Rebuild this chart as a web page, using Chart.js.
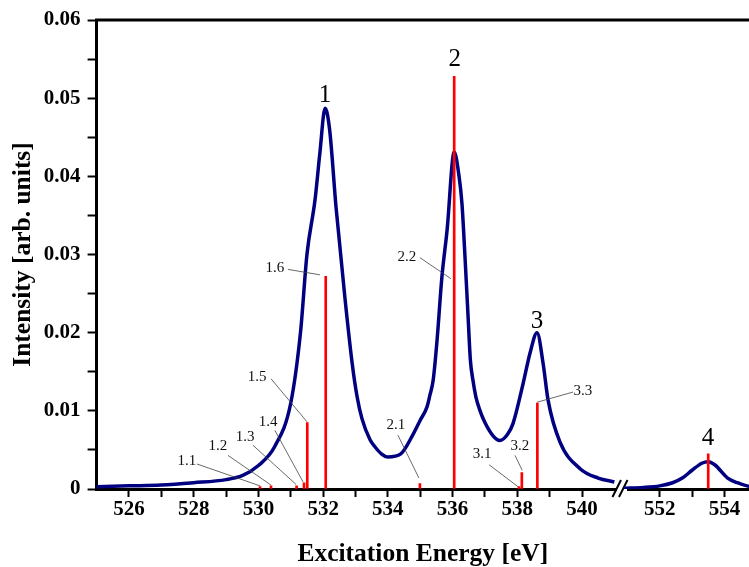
<!DOCTYPE html>
<html>
<head>
<meta charset="utf-8">
<script src="https://cdn.jsdelivr.net/npm/chart.js@4/dist/chart.umd.min.js"></script>
<style>
  html, body { margin: 0; padding: 0; background: #fff; }
  #wrap { width: 749px; height: 567px; }
</style>
</head>
<body>
<div id="wrap"><canvas id="spec"></canvas></div>
<script>
// Spectrum (left part of the broken axis, 525-541 eV)
var energyLow = [525.0, 526.0, 527.0, 528.0, 529.0, 529.5, 530.0, 530.5, 531.0, 531.3, 531.5, 531.75, 531.9, 532.06,
    532.2, 532.4, 532.68, 532.9, 533.05, 533.2, 533.45, 533.6, 533.8, 534.0, 534.4, 534.78, 535.0, 535.21, 535.3,
    535.4, 535.52, 535.67, 535.83, 536.05, 536.2, 536.29, 536.38, 536.48, 536.55, 536.63, 536.72, 536.85, 537.0,
    537.25, 537.46, 537.7, 537.87, 538.18, 538.4, 538.61, 538.8, 538.95, 539.32, 539.94, 540.5, 541.0];
var intensityLow = [0.0003, 0.0004, 0.0005, 0.0008, 0.0012, 0.0017, 0.0030, 0.0054, 0.0110, 0.0200, 0.0300, 0.0370, 0.0430, 0.0487,
    0.0460, 0.0360, 0.0242, 0.0160, 0.0118, 0.0090, 0.0063, 0.0054, 0.0045, 0.0041, 0.0045, 0.0070, 0.0088, 0.0105, 0.0120,
    0.0139, 0.0190, 0.0271, 0.0331, 0.0431, 0.0400, 0.0365, 0.0300, 0.0220, 0.0165, 0.0139, 0.0118, 0.0100, 0.0085,
    0.0068, 0.0062, 0.0070, 0.0084, 0.0135, 0.0175, 0.0200, 0.0160, 0.0114, 0.0060, 0.0026, 0.0014, 0.0009];

// Spectrum (right part, 551-555 eV)
var energyHigh = [550.9, 551.5, 552.0, 552.4, 552.7, 553.0, 553.3, 553.5, 553.7, 554.1, 554.4, 554.7, 555.0];
var intensityHigh = [0.0001, 0.0002, 0.0004, 0.0008, 0.0014, 0.0024, 0.0033, 0.0035, 0.0031, 0.0014, 0.0008, 0.0004, 0.0003];

// Transition sticks
var stickNames = ['1.1', '1.2', '1.3', '1.4', '1.5', '1.6', '2.1', '2.2', '3.1', '3.2', '3.3', '4'];
var stickEnergy = [530.05, 530.39, 531.18, 531.41, 531.51, 532.08, 534.99, 536.05, 538.05, 538.14, 538.62, 553.5];
var stickIntensity = [0.0003, 0.0004, 0.0004, 0.0008, 0.0085, 0.0272, 0.0007, 0.0528, 0.0003, 0.0021, 0.011, 0.0045];

// Ticks (real energies)
var xTickEnergy = [526, 527, 528, 529, 530, 531, 532, 533, 534, 535, 536, 537, 538, 539, 540, 552, 553, 554];
var xLabelEnergy = [526, 528, 530, 532, 534, 536, 538, 540, 552, 554];
var yTickLabels = ['0', '0.01', '0.02', '0.03', '0.04', '0.05', '0.06'];

// axis break: everything above 545 eV is moved left by this amount
var BREAK_SHIFT = 9.6;
var BREAK_AT = 541.2; // position of the // marks (axis units)

function toAxis(e) { return e > 545 ? e - BREAK_SHIFT : e; }
function fromAxis(v) { return v > BREAK_AT ? v + BREAK_SHIFT : v; }

// annotation placement (axis units): text centre, leader start, leader end
var smallNotes = [
    { t: '1.1', tx: 527.79, ty: 0.0036, a: [528.10, 0.0032], b: [530.05, 0.0004] },
    { t: '1.2', tx: 528.75, ty: 0.0055, a: [529.06, 0.0043], b: [530.39, 0.0005] },
    { t: '1.3', tx: 529.59, ty: 0.0067, a: [529.83, 0.0056], b: [531.16, 0.0006] },
    { t: '1.4', tx: 530.30, ty: 0.0086, a: [530.51, 0.0075], b: [531.38, 0.0009] },
    { t: '1.5', tx: 529.96, ty: 0.0143, a: [530.39, 0.0141], b: [531.50, 0.0086] },
    { t: '1.6', tx: 530.51, ty: 0.0283, a: [530.91, 0.0281], b: [531.90, 0.0274] },
    { t: '2.1', tx: 534.25, ty: 0.0082, a: [534.31, 0.0069], b: [534.96, 0.0014] },
    { t: '2.2', tx: 534.59, ty: 0.0297, a: [534.99, 0.0296], b: [535.95, 0.0269] },
    { t: '3.1', tx: 536.91, ty: 0.0045, a: [537.13, 0.0031], b: [538.02, 0.0003] },
    { t: '3.2', tx: 538.08, ty: 0.0055, a: [537.93, 0.0043], b: [538.15, 0.0024] },
    { t: '3.3', tx: 540.03, ty: 0.0125, a: [539.72, 0.0124], b: [538.61, 0.0111] }
];
var peakNotes = [
    { t: '1', x: 532.06, y: 0.0504 },
    { t: '2', x: 536.07, y: 0.0550 },
    { t: '3', x: 538.61, y: 0.0215 },
    { t: '4', x: 543.89, y: 0.0065 }
];

var SERIF = "'Liberation Serif', 'Times New Roman', serif";

// build the curve with a gap at the break
var curvePts = [];
energyLow.forEach(function (e, i) { curvePts.push({ x: toAxis(e), y: intensityLow[i] }); });
curvePts.push({ x: BREAK_AT, y: null });
energyHigh.forEach(function (e, i) { curvePts.push({ x: toAxis(e), y: intensityHigh[i] }); });

var stickPts = stickEnergy.map(function (e, i) { return { x: toAxis(e), y: stickIntensity[i] }; });

var annotPlugin = {
    id: 'annot',
    beforeDatasetsDraw: function (chart) {
        var ctx = chart.ctx, xs = chart.scales.x, area = chart.chartArea;
        ctx.save();
        // top frame line
        ctx.strokeStyle = '#000';
        ctx.lineWidth = 3;
        ctx.beginPath();
        ctx.moveTo(area.left - 1.5, area.top);
        ctx.lineTo(area.right, area.top);
        ctx.stroke();
        // break in the x axis
        var x0 = xs.getPixelForValue(541.08), x1 = xs.getPixelForValue(541.39), yb = area.bottom;
        ctx.fillStyle = '#fff';
        ctx.fillRect(x0, yb - 2, x1 - x0, 4);
        ctx.lineWidth = 2;
        [x0 - 0.5, x1 - 4].forEach(function (cx) {
            ctx.beginPath();
            ctx.moveTo(cx - 4, yb + 8);
            ctx.lineTo(cx + 4.5, yb - 9);
            ctx.stroke();
        });
        ctx.restore();
    },
    afterDatasetsDraw: function (chart) {
        var ctx = chart.ctx, xs = chart.scales.x, ys = chart.scales.y;
        ctx.save();
        ctx.textAlign = 'center';
        ctx.textBaseline = 'middle';
        ctx.font = '15px ' + SERIF;
        smallNotes.forEach(function (n) {
            ctx.strokeStyle = '#444';
            ctx.lineWidth = 0.8;
            ctx.beginPath();
            ctx.moveTo(xs.getPixelForValue(n.a[0]), ys.getPixelForValue(n.a[1]));
            ctx.lineTo(xs.getPixelForValue(n.b[0]), ys.getPixelForValue(n.b[1]));
            ctx.stroke();
            ctx.fillStyle = '#111';
            ctx.fillText(n.t, xs.getPixelForValue(n.tx), ys.getPixelForValue(n.ty));
        });
        ctx.font = '25px ' + SERIF;
        peakNotes.forEach(function (n) {
            ctx.fillStyle = '#000';
            ctx.fillText(n.t, xs.getPixelForValue(n.x), ys.getPixelForValue(n.y));
        });
        ctx.restore();
    }
};

new Chart(document.getElementById('spec'), {
    type: 'line',
    data: {
        datasets: [
            {
                type: 'bar',
                label: 'transitions',
                data: stickPts,
                backgroundColor: '#ff0000',
                barThickness: 2,
                grouped: false,
                order: 0
            },
            {
                label: 'spectrum',
                data: curvePts,
                borderColor: '#000080',
                borderWidth: 3.5,
                pointRadius: 0,
                cubicInterpolationMode: 'monotone',
                spanGaps: false,
                fill: false,
                order: 1
            }
        ]
    },
    options: {
        responsive: true,
        maintainAspectRatio: false,
        animation: false,
        layout: { padding: { top: 20, right: 0, left: 0, bottom: 0 } },
        plugins: {
            legend: { display: false },
            tooltip: { enabled: false }
        },
        scales: {
            x: {
                type: 'linear',
                min: 525,
                max: 545.16,
                offset: false,
                afterFit: function (s) { s.height = 78; },
                afterBuildTicks: function (s) {
                    s.ticks = xTickEnergy.map(function (e) { return { value: toAxis(e) }; });
                },
                grid: { display: true, drawOnChartArea: false, drawTicks: true, tickLength: 8, tickWidth: 2, tickColor: '#000', offset: false },
                border: { display: true, color: '#000', width: 3 },
                ticks: {
                    autoSkip: false,
                    maxRotation: 0,
                    padding: 0,
                    color: '#000',
                    font: { family: SERIF, size: 21, weight: 'bold' },
                    callback: function (v) {
                        var e = Math.round(fromAxis(v));
                        return xLabelEnergy.indexOf(e) >= 0 ? String(e) : '';
                    }
                },
                title: {
                    display: true,
                    text: 'Excitation Energy [eV]',
                    color: '#000',
                    font: { family: SERIF, size: 25.5, weight: 'bold', lineHeight: 1 },
                    padding: { top: 0, bottom: 0 }
                }
            },
            y: {
                min: 0,
                max: 0.06,
                afterFit: function (s) { s.width = 96.6; },
                grid: { display: true, drawOnChartArea: false, drawTicks: true, tickLength: 9, tickWidth: 2, tickColor: '#000' },
                border: { display: true, color: '#000', width: 3 },
                ticks: {
                    stepSize: 0.005,
                    padding: 7,
                    color: '#000',
                    font: { family: SERIF, size: 21, weight: 'bold' },
                    callback: function (v) {
                        var k = Math.round(v * 1000);
                        return k % 10 === 0 ? yTickLabels[k / 10] : '';
                    }
                },
                title: {
                    display: true,
                    text: 'Intensity [arb. units]',
                    color: '#000',
                    font: { family: SERIF, size: 25.5, weight: 'bold', lineHeight: 1 },
                    padding: { top: 11, bottom: 0 }
                }
            }
        }
    },
    plugins: [annotPlugin]
});
</script>
</body>
</html>
